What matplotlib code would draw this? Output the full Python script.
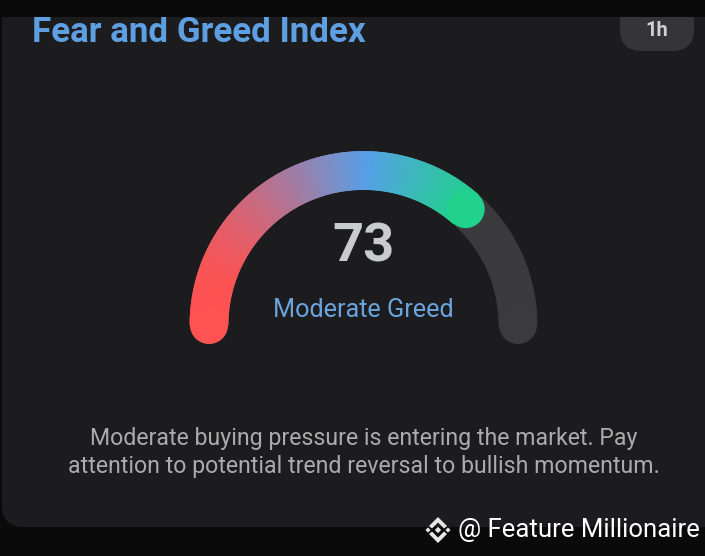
import numpy as np
import matplotlib
matplotlib.use("Agg")
import matplotlib.pyplot as plt
from matplotlib.patches import FancyBboxPatch, Circle, Polygon, Rectangle
from matplotlib.collections import PolyCollection
from matplotlib.colors import LinearSegmentedColormap

# ---- data ----
title = "Fear and Greed Index"
timeframe = "1h"
index_value = 73
scale_min = 0
scale_max = 100
sentiment_label = "Moderate Greed"
description_lines = [
    "Moderate buying pressure is entering the market. Pay",
    "attention to potential trend reversal to bullish momentum.",
]
watermark = "@ Feature Millionaire"
gradient_colors = ["#ff5353", "#ff5353", "#57a1ea", "#1fd48a", "#1fd48a"]
gradient_stops = [0.0, 0.08, 0.6, 0.95, 1.0]

# ---- style ----
BG = "#0a0a0a"
CARD = "#1c1c1e"
TRACK = "#3b3b3d"
TITLE_C = "#5e9fe2"
FONT = "Roboto"

W, H = 705, 556
fig = plt.figure(figsize=(W / 100, H / 100), dpi=100)
fig.patch.set_facecolor(BG)
ax = fig.add_axes([0, 0, 1, 1])
ax.set_xlim(0, W)
ax.set_ylim(H, 0)
ax.axis("off")
ax.set_facecolor(BG)

# card
card = FancyBboxPatch((2, -40), 760, 567, boxstyle="round,pad=0,rounding_size=22",
                      fc=CARD, ec="none", zorder=1)
ax.add_patch(card)

# title
ax.text(32, 33, title, color=TITLE_C, fontsize=25.2, fontweight="bold",
        family=FONT, ha="left", va="center", zorder=5)

# pill
pill = FancyBboxPatch((620, -5), 74, 56, boxstyle="round,pad=0,rounding_size=22",
                      fc="#353537", ec="none", zorder=2)
ax.add_patch(pill)
ax.text(657, 31, timeframe, color="#cfd0d2", fontsize=14.5, fontweight="bold",
        family=FONT, ha="center", va="center", zorder=5)

# top black strip
ax.add_patch(Rectangle((0, 0), W, 17, fc=BG, ec="none", zorder=8))

# gauge geometry
cx, cy = 363.5, 325.0
R = 154.5
hw = 19.0

def arc_band(t0, t1, n):
    th = np.linspace(np.radians(t0), np.radians(t1), n + 1)
    polys = []
    mids = []
    for a, b in zip(th[:-1], th[1:]):
        p = [
            (cx + (R + hw) * np.cos(a), cy - (R + hw) * np.sin(a)),
            (cx + (R + hw) * np.cos(b), cy - (R + hw) * np.sin(b)),
            (cx + (R - hw) * np.cos(b), cy - (R - hw) * np.sin(b)),
            (cx + (R - hw) * np.cos(a), cy - (R - hw) * np.sin(a)),
        ]
        polys.append(p)
        mids.append(cx + R * np.cos((a + b) / 2))
    return polys, np.array(mids)

# track
tp, _ = arc_band(180, 0, 200)
ax.add_collection(PolyCollection(tp, facecolors=TRACK, edgecolors=TRACK, linewidths=0.6, zorder=3))
for ang in (180, 0):
    ax.add_patch(Circle((cx + R * np.cos(np.radians(ang)), cy - R * np.sin(np.radians(ang))),
                        hw, fc=TRACK, ec="none", zorder=3))

# value arc
end_ang = 180 - (index_value - scale_min) / (scale_max - scale_min) * 180
cmap = LinearSegmentedColormap.from_list("fg", list(zip(gradient_stops, gradient_colors)))
x_lo = cx - R - hw
x_hi = cx + R * np.cos(np.radians(end_ang)) + hw
vp, vm = arc_band(180, end_ang, 300)
cols = cmap(np.clip((vm - x_lo) / (x_hi - x_lo), 0, 1))
ax.add_collection(PolyCollection(vp, facecolors=cols, edgecolors=cols, linewidths=0.6, zorder=4))
sx, sy = cx - R, cy
ex, ey = cx + R * np.cos(np.radians(end_ang)), cy - R * np.sin(np.radians(end_ang))
ax.add_patch(Circle((sx, sy), hw, fc=cmap(np.clip((sx - x_lo) / (x_hi - x_lo), 0, 1)), ec="none", zorder=4))
ax.add_patch(Circle((ex, ey), hw, fc=cmap(np.clip((ex - x_lo) / (x_hi - x_lo), 0, 1)), ec="none", zorder=4))

# value text
ax.text(cx, 247, str(index_value), color="#c8ccd1", fontsize=39, fontweight="bold",
        family=FONT, ha="center", va="center", zorder=5)
ax.text(cx, 310, sentiment_label, color="#6ba4dd", fontsize=18.2,
        family=FONT, ha="center", va="center", zorder=5)

# description
for i, line in enumerate(description_lines):
    ax.text(cx, 439 + i * 28, line, color="#ababab", fontsize=16.7,
            family=FONT, ha="center", va="center", zorder=5)

# watermark logo (diamond cluster)
lx, ly = 438, 530
def diamond(x, y, r):
    return Polygon([(x, y - r), (x + r, y), (x, y + r), (x - r, y)], closed=True,
                   fc="#e6e6e6", ec="none", zorder=6)
ax.add_patch(diamond(lx, ly, 3.2))
ax.add_patch(diamond(lx - 10, ly, 2.6))
ax.add_patch(diamond(lx + 10, ly, 2.6))
for sgn in (-1, 1):
    ax.add_patch(Polygon([(lx - 9, ly + sgn * 4), (lx, ly + sgn * 13), (lx + 9, ly + sgn * 4),
                          (lx + 6, ly + sgn * 1.5), (lx, ly + sgn * 7.5), (lx - 6, ly + sgn * 1.5)],
                         closed=True, fc="#e6e6e6", ec="none", zorder=6))
ax.text(458, 530, watermark, color="#ffffff", fontsize=18.5, family=FONT,
        ha="left", va="center", zorder=6)

fig.savefig("out.png", dpi=100, facecolor=BG)
